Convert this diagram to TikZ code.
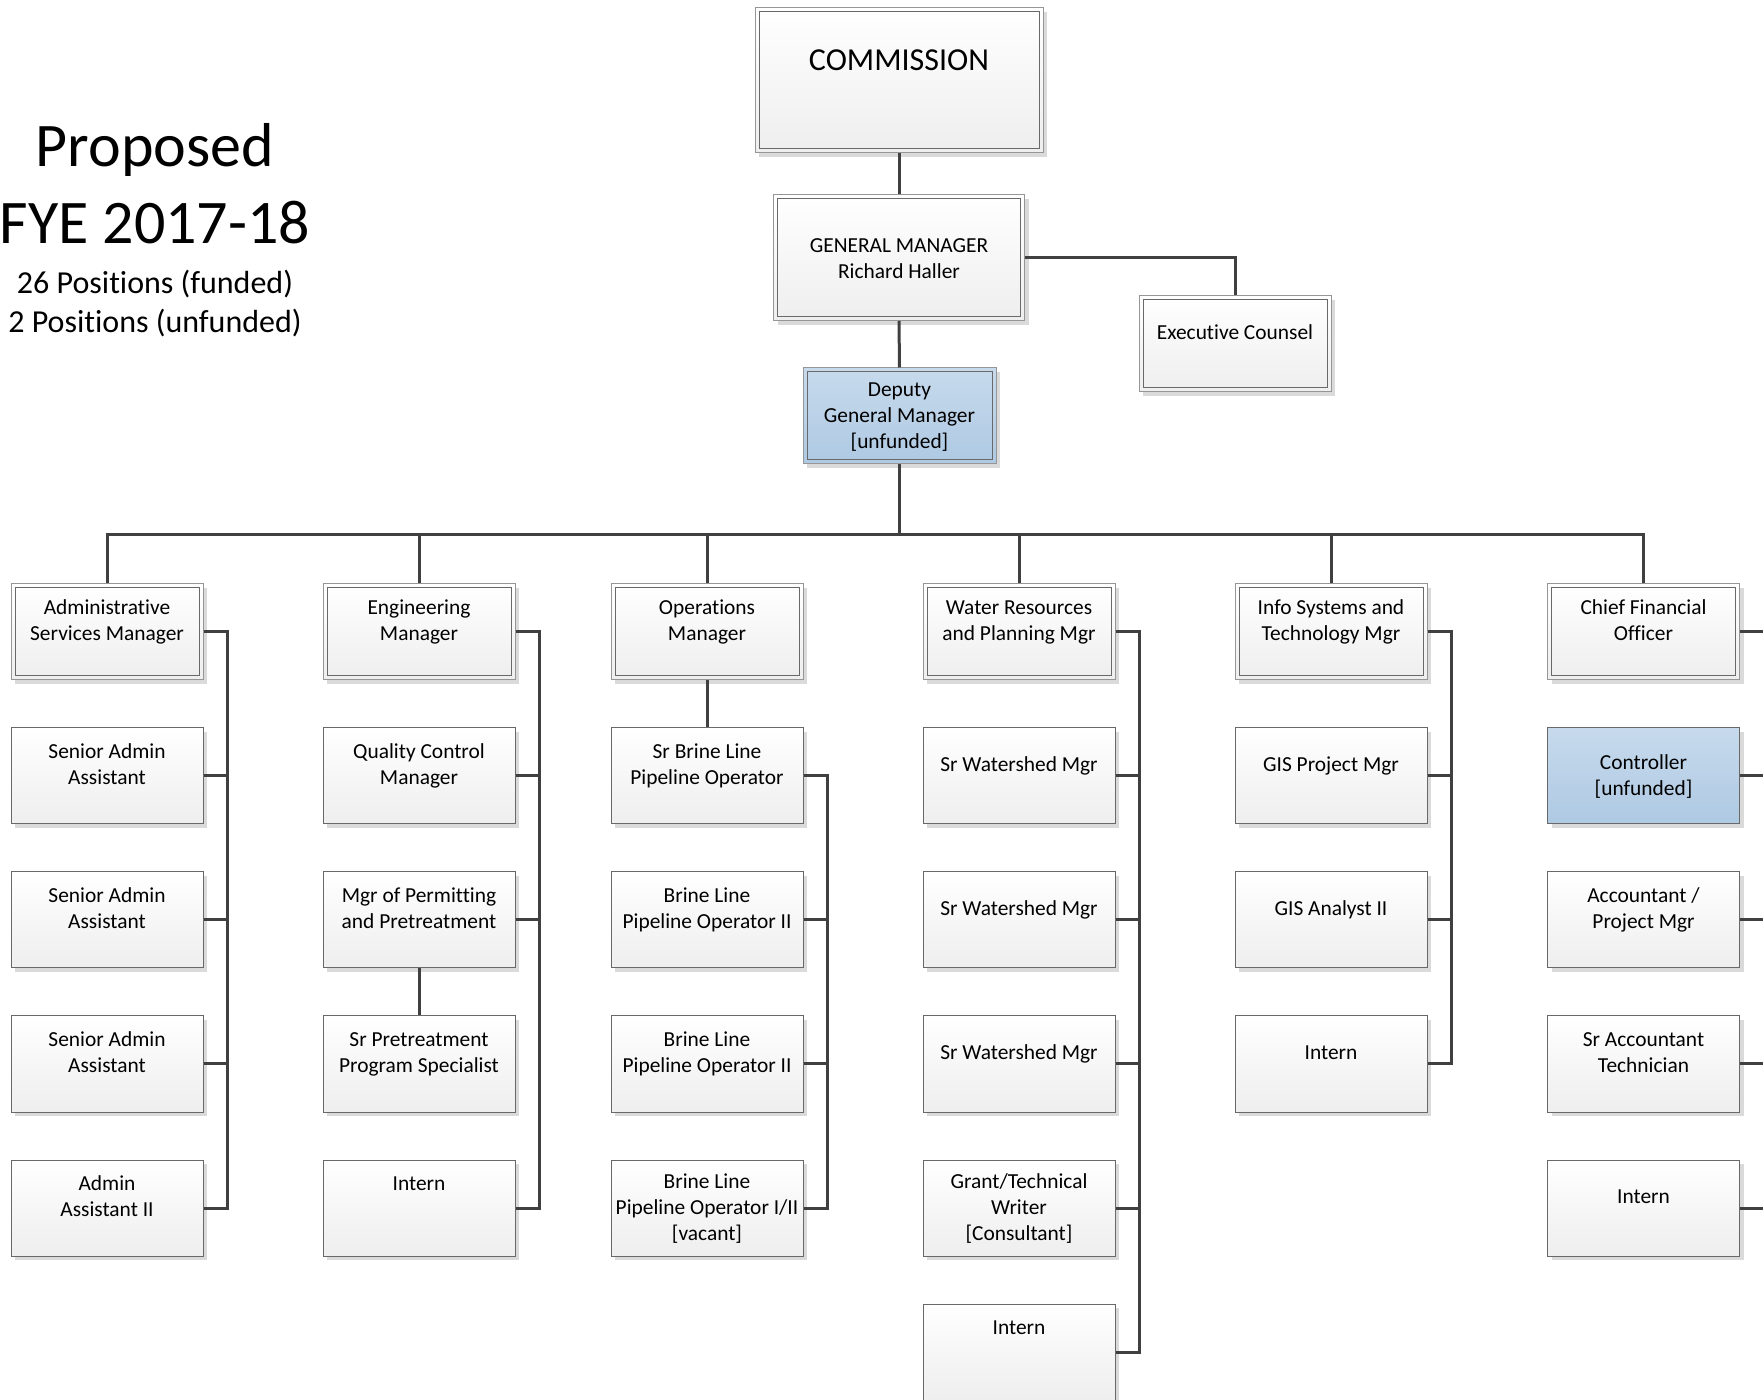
\documentclass[tikz,border=0pt]{standalone}
\usepackage{fontspec}
\setmainfont{Carlito}[Ligatures=NoCommon]
\usetikzlibrary{shadows,calc}

\definecolor{boxline}{RGB}{105,105,105}
\definecolor{boxlight}{RGB}{150,150,150}
\definecolor{boxbot}{RGB}{238,238,238}
\definecolor{bluetop}{RGB}{199,218,236}
\definecolor{bluebot}{RGB}{174,201,227}
\definecolor{linkgray}{RGB}{64,64,64}
\definecolor{shadowgray}{RGB}{218,218,218}

% first line of a box gets a fixed height
\newcommand{\rtext}[2][8.4pt]{\rule{0pt}{#1}#2}

\tikzset{
  post/.style={draw=boxline, line width=0.5pt, top color=white, bottom color=boxbot,
    minimum width=96pt, minimum height=48pt, inner sep=0pt, align=center,
    font=\fontsize{10.7}{13}\selectfont,
    drop shadow={shadow xshift=2.2pt, shadow yshift=-2.2pt, fill=shadowgray, opacity=1}},
  head/.style={post, draw=boxlight},
  unfunded/.style={top color=bluetop, bottom color=bluebot},
  rim/.style={draw=boxline, line width=0.5pt},
  link/.style={draw=linkgray, line width=1.5pt},
}

\begin{document}
\begin{tikzpicture}[x=0.5pt, y=-0.5pt]
  \useasboundingbox (0,0) rectangle (1763,1400);

  %% Heading, left
  \node[font=\fontsize{31}{38.5}\selectfont, align=center] (title) at (155,190)
    {\strut Proposed\\FYE 2017-18\strut};
  \node[font=\fontsize{16}{19.5}\selectfont, align=center] (counts) at (155,305)
    {\strut 26 Positions (funded)\\2 Positions (unfunded)\strut};

  %% Top of the chart
  \node[head, minimum width=144pt, minimum height=72.5pt, font=\fontsize{16}{19.5}\selectfont]
    (comm) at (899,80) {\rtext[9.7pt]{COMMISSION\\~}};
  \node[head, minimum width=125.5pt, minimum height=63pt] (gm) at (899,257.5)
    {\rtext{GENERAL MANAGER\\Richard Haller}};
  \node[head] (ec) at (1235,344) {\rtext{Executive Counsel\\~}};
  \node[head, unfunded, minimum width=96.5pt] (dgm) at (899.5,416)
    {\rtext{Deputy\\General Manager\\{[unfunded]}}};

  %% Department heads
  \node[head] (adm) at (107,632)    {\rtext{Administrative\\Services Manager\\~}};
  \node[head] (eng) at (419,632)    {\rtext{Engineering\\Manager\\~}};
  \node[head] (ops) at (707,632)    {\rtext{Operations\\Manager\\~}};
  \node[head] (wat) at (1019,632)   {\rtext{Water Resources\\and Planning Mgr\\~}};
  \node[head] (ist) at (1331,632)   {\rtext{Info Systems and\\Technology Mgr\\~}};
  \node[head] (cfo) at (1643.5,632) {\rtext{Chief Financial\\Officer\\~}};

  %% Inner rims of the double-framed boxes
  \foreach \n in {comm,gm,ec,dgm,adm,eng,ops,wat,ist,cfo}
    \draw[rim] ([shift={(4.5,4.5)}]\n.north west) rectangle ([shift={(-4.5,-4.5)}]\n.south east);

  %% Administrative services
  \node[post] (adm1) at (107,776)  {\rtext{Senior Admin\\Assistant\\~}};
  \node[post] (adm2) at (107,920)  {\rtext{Senior Admin\\Assistant\\~}};
  \node[post] (adm3) at (107,1064) {\rtext{Senior Admin\\Assistant\\~}};
  \node[post] (adm4) at (107,1208) {\rtext{Admin\\Assistant II\\~}};

  %% Engineering
  \node[post] (eng1) at (419,776)  {\rtext{Quality Control\\Manager\\~}};
  \node[post] (eng2) at (419,920)  {\rtext{Mgr of Permitting\\and Pretreatment\\~}};
  \node[post] (eng3) at (419,1064) {\rtext{Sr Pretreatment\\Program Specialist\\~}};
  \node[post] (eng4) at (419,1208) {\rtext{Intern\\~\\~}};

  %% Operations
  \node[post] (ops1) at (707,776)  {\rtext{Sr Brine Line\\Pipeline Operator\\~}};
  \node[post] (ops2) at (707,920)  {\rtext{Brine Line\\Pipeline Operator II\\~}};
  \node[post] (ops3) at (707,1064) {\rtext{Brine Line\\Pipeline Operator II\\~}};
  \node[post] (ops4) at (707,1208) {\rtext{Brine Line\\Pipeline Operator I/II\\{[vacant]}}};

  %% Water resources
  \node[post] (wat1) at (1019,776)  {\rtext{Sr Watershed Mgr\\~}};
  \node[post] (wat2) at (1019,920)  {\rtext{Sr Watershed Mgr\\~}};
  \node[post] (wat3) at (1019,1064) {\rtext{Sr Watershed Mgr\\~}};
  \node[post] (wat4) at (1019,1208) {\rtext{Grant/Technical\\Writer\\{[Consultant]}}};
  \node[post] (wat5) at (1019,1352) {\rtext{Intern\\~\\~}};

  %% Info systems
  \node[post] (ist1) at (1331,776)  {\rtext{GIS Project Mgr\\~}};
  \node[post] (ist2) at (1331,920)  {\rtext{GIS Analyst II\\~}};
  \node[post] (ist3) at (1331,1064) {\rtext{Intern\\~}};

  %% Finance
  \node[post, unfunded] (cfo1) at (1643.5,776) {\rtext{Controller\\{[unfunded]}}};
  \node[post] (cfo2) at (1643.5,920)  {\rtext{Accountant /\\Project Mgr\\~}};
  \node[post] (cfo3) at (1643.5,1064) {\rtext{Sr Accountant\\Technician\\~}};
  \node[post] (cfo4) at (1643.5,1208) {\rtext{Intern\\~}};

  %% Upper links
  \draw[link] (comm.south) -- (gm.north);
  \draw[link] (gm.east) -| (ec.north);
  \draw[link] (gm.south) -- (dgm.north);

  %% Bus to the departments
  \coordinate (bus) at (0,535);
  \foreach \m in {adm,eng,ops,wat,ist,cfo}
    \draw[link] (dgm.south) |- (bus -| \m.north) -- (\m.north);

  %% Rails on the right of each column
  \coordinate (admR) at ($(adm.east)+(24,0)$);
  \coordinate (engR) at ($(eng.east)+(24,0)$);
  \coordinate (opsR) at ($(ops1.east)+(24,0)$);
  \coordinate (watR) at ($(wat.east)+(24,0)$);
  \coordinate (istR) at ($(ist.east)+(24,0)$);
  \coordinate (cfoR) at ($(cfo.east)+(24,0)$);

  \draw[link] (adm.east) -- (admR) |- (adm4.east);
  \foreach \s in {adm1,adm2,adm3}
    \draw[link] (\s.east) -- (\s.east -| admR);

  \draw[link] (eng.east) -- (engR) |- (eng4.east);
  \foreach \s in {eng1,eng2}
    \draw[link] (\s.east) -- (\s.east -| engR);
  \draw[link] (eng2.south) -- (eng3.north);

  \draw[link] (ops.south) -- (ops1.north);
  \draw[link] (ops1.east) -- (opsR) |- (ops4.east);
  \foreach \s in {ops2,ops3}
    \draw[link] (\s.east) -- (\s.east -| opsR);

  \draw[link] (wat.east) -- (watR) |- (wat5.east);
  \foreach \s in {wat1,wat2,wat3,wat4}
    \draw[link] (\s.east) -- (\s.east -| watR);

  \draw[link] (ist.east) -- (istR) |- (ist3.east);
  \foreach \s in {ist1,ist2}
    \draw[link] (\s.east) -- (\s.east -| istR);

  \draw[link] (cfo.east) -- (cfoR) |- (cfo4.east);
  \foreach \s in {cfo1,cfo2,cfo3}
    \draw[link] (\s.east) -- (\s.east -| cfoR);
\end{tikzpicture}
\end{document}
